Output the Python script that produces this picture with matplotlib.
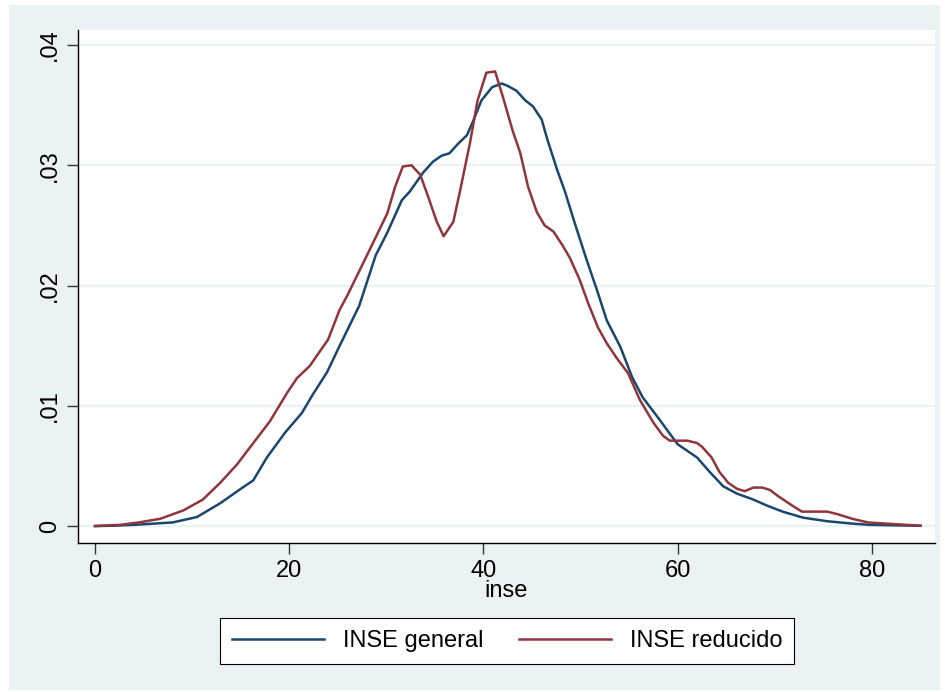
import matplotlib
matplotlib.use("Agg")
import matplotlib.pyplot as plt
from matplotlib.patches import Rectangle

# kernel density of inse
x_general = [0, 2, 4, 6, 8, 10.5, 12.9, 15.2, 16.3, 17.7, 19.6, 21.3, 22.4, 23.9,
             25.2, 27.2, 28.9, 30.1, 31.6, 32.4, 33.8, 34.8, 35.7, 36.5, 37.4, 38.3,
             38.9, 39.8, 40.9, 41.9, 42.5, 43.4, 44.3, 45.1, 46.0, 46.6, 47.6, 48.4,
             49.4, 50.6, 51.7, 52.7, 54.1, 55.3, 56.4, 57.9, 58.9, 60.0, 62.0, 63.3,
             64.7, 66.1, 67.8, 69.2, 70.8, 72.9, 75.4, 78.0, 79.8, 85]
y_general = [0, 0.00003, 0.0001, 0.0002, 0.0003, 0.00075, 0.0019, 0.0032, 0.0038,
             0.0057, 0.0078, 0.0094, 0.0109, 0.0128, 0.0150, 0.0183, 0.0225, 0.0244,
             0.0271, 0.0278, 0.0294, 0.0303, 0.0308, 0.0310, 0.0318, 0.0325, 0.0336,
             0.0354, 0.0365, 0.0368, 0.0366, 0.0362, 0.0354, 0.0349, 0.0338, 0.0321,
             0.0296, 0.0278, 0.0252, 0.0222, 0.0196, 0.0171, 0.0149, 0.0124, 0.0107,
             0.0091, 0.0080, 0.0068, 0.0057, 0.0045, 0.0033, 0.0027, 0.0022, 0.0017,
             0.0012, 0.0007, 0.0004, 0.0002, 0.0001, 0.00002]

x_reducido = [0, 2.6, 4.5, 6.7, 9.1, 11.1, 12.9, 14.6, 16.3, 18.0, 19.8, 20.8, 22.1,
              24.0, 25.2, 26.0, 28.3, 30.1, 30.9, 31.7, 32.6, 33.5, 34.3, 35.2, 35.9,
              36.9, 37.6, 38.6, 39.4, 40.3, 41.2, 42.0, 43.0, 43.8, 44.6, 45.5, 46.3,
              47.2, 48.1, 48.9, 49.9, 50.8, 51.8, 52.7, 53.7, 54.9, 56.1, 57.5, 58.5,
              59.2, 61.0, 62.0, 62.5, 63.5, 64.3, 65.2, 66.1, 66.9, 67.8, 68.7, 69.5,
              70.5, 71.8, 72.8, 75.4, 76.4, 78.0, 79.6, 81.5, 85]
y_reducido = [0, 0.0001, 0.0003, 0.0006, 0.0013, 0.0022, 0.0036, 0.0051, 0.0069,
              0.0087, 0.0111, 0.0123, 0.0133, 0.0155, 0.0180, 0.0192, 0.0230, 0.0260,
              0.0282, 0.0299, 0.0300, 0.0292, 0.0274, 0.0253, 0.0241, 0.0253, 0.0279,
              0.0318, 0.0354, 0.0377, 0.0378, 0.0357, 0.0329, 0.0310, 0.0282, 0.0261,
              0.0250, 0.0245, 0.0234, 0.0223, 0.0205, 0.0185, 0.0165, 0.0152, 0.0140,
              0.0127, 0.0105, 0.0086, 0.0075, 0.0071, 0.0071, 0.0069, 0.0066, 0.0057,
              0.0045, 0.0036, 0.0031, 0.0029, 0.0032, 0.0032, 0.0030, 0.0024, 0.0017,
              0.0012, 0.0012, 0.0010, 0.0006, 0.0003, 0.0002, 0.00003]

y_ticks = [0, 0.01, 0.02, 0.03, 0.04]
y_ticklabels = ["0", ".01", ".02", ".03", ".04"]
x_ticks = [0, 20, 40, 60, 80]

navy = "#1A476F"
maroon = "#90353B"
bg = "#EAF2F3"

plt.rcParams["font.family"] = ["Liberation Sans", "DejaVu Sans"]

W, H = 947, 692
fig = plt.figure(figsize=(W / 100, H / 100), dpi=100, facecolor="white")
fig.add_artist(Rectangle((9 / W, 2 / H), (940 - 9) / W, (687 - 2) / H,
                         transform=fig.transFigure, facecolor=bg, edgecolor="none", zorder=-10))

ax = fig.add_axes([78 / W, 1 - 543 / H, (935 - 78) / W, (543 - 30) / H])
ax.set_facecolor("white")

ax.plot(x_general, y_general, color=navy, lw=1.8, label="INSE general")
ax.plot(x_reducido, y_reducido, color=maroon, lw=1.8, label="INSE reducido")

ax.set_xlim(-1.75, 86.5)
ax.set_ylim(-0.00141, 0.04125)
ax.set_yticks(y_ticks)
ax.set_yticklabels(y_ticklabels, rotation=90, va="center")
ax.set_xticks(x_ticks)
ax.tick_params(labelsize=17, length=8, width=1, color="#333333", pad=4)
ax.grid(axis="y", color=bg, lw=1.6)
ax.set_axisbelow(True)
for side in ["top", "right"]:
    ax.spines[side].set_visible(False)
ax.spines["left"].set_linewidth(1)
ax.spines["bottom"].set_linewidth(1)
ax.set_xlabel("inse", fontsize=17, labelpad=-1)

leg = fig.legend(loc="center", bbox_to_anchor=(507 / W, 1 - 641 / H), ncol=2,
                 fontsize=17, frameon=True, fancybox=False, framealpha=1,
                 handlelength=3.9, columnspacing=1.5, handletextpad=0.8, borderpad=0.5)
leg.get_frame().set_facecolor("white")
leg.get_frame().set_edgecolor("black")
leg.get_frame().set_linewidth(0.8)

fig.savefig("out.png", dpi=100, facecolor=fig.get_facecolor())
